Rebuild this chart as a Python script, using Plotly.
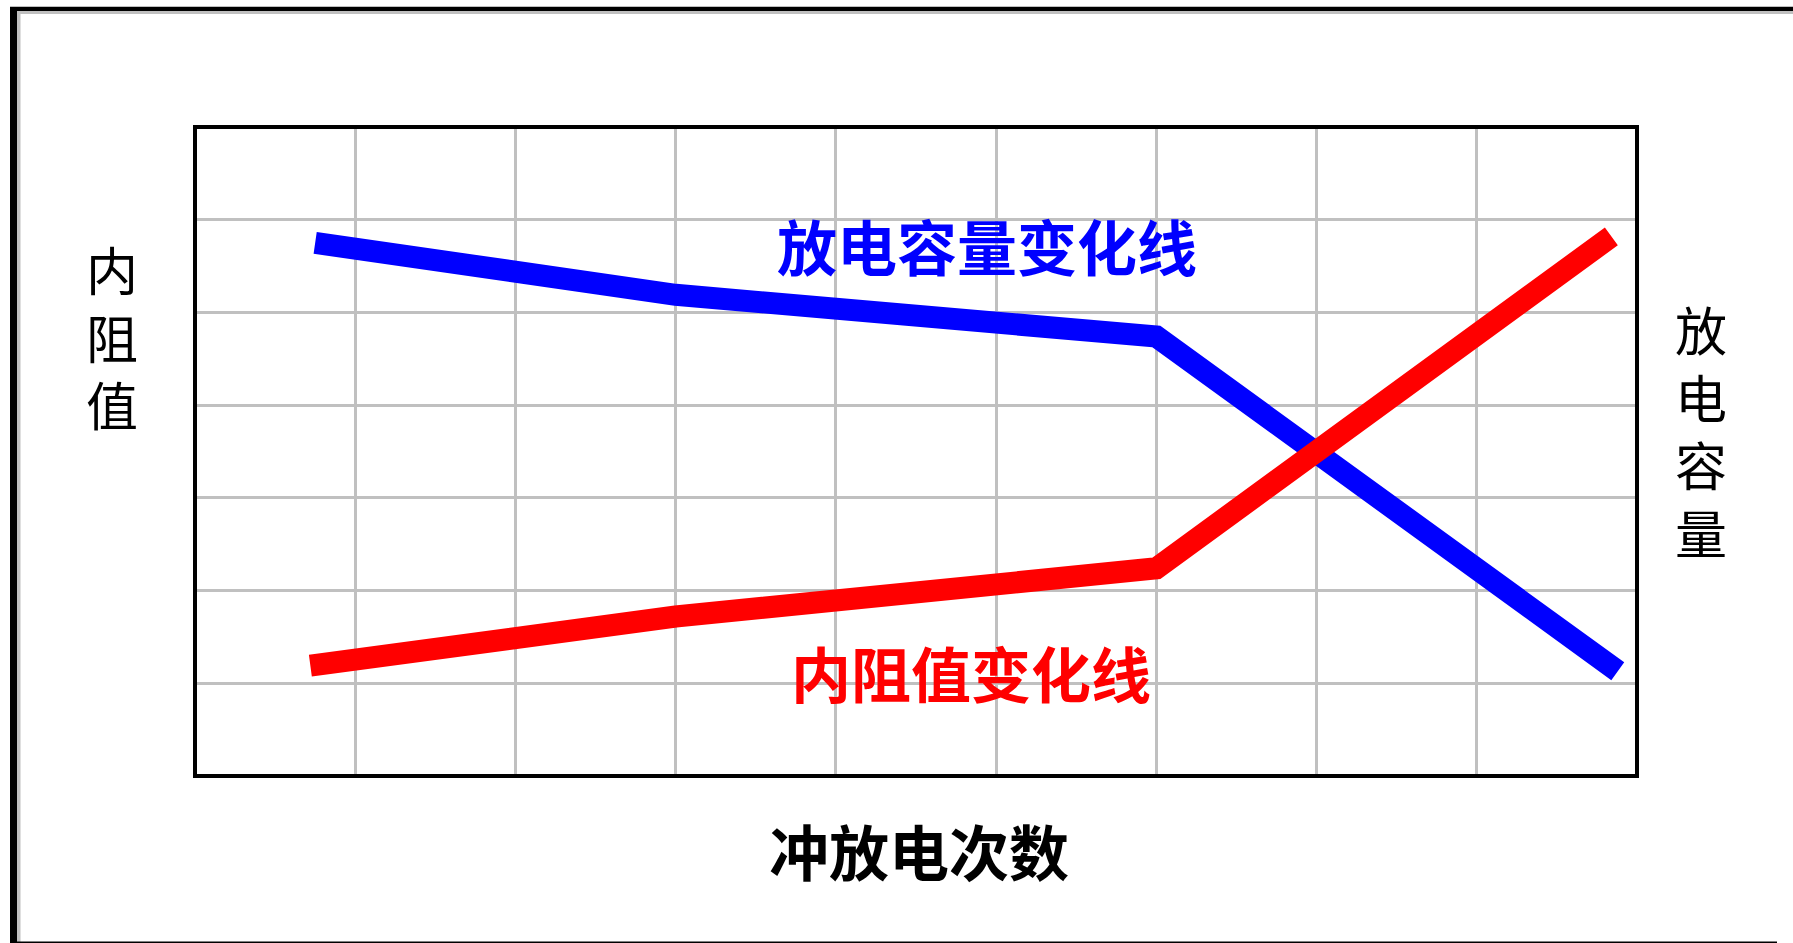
import plotly.graph_objects as go

# ---------------- data (grid units) ----------------
cycles_capacity = [0.75, 3.0, 6.0, 8.88]
capacity = [5.75, 5.19, 4.74, 1.13]
cycles_resistance = [0.72, 3.0, 6.0, 8.84]
resistance = [1.19, 1.72, 2.24, 5.82]

capacity_label = "放电容量变化线"
resistance_label = "内阻值变化线"
x_title = "冲放电次数"
y_left_title = "内阻值"
y_right_title = "放电容量"

# ---------------- layout geometry (pixels) ----------------
W, H = 1793, 943
L, R, T, B = 195, 1637, 127, 776
FONT = "Noto Sans CJK SC"


def px(x):
    return (x - L) / (R - L)


def py(y):
    return (B - y) / (B - T)


fig = go.Figure()
fig.add_trace(go.Scatter(x=cycles_capacity, y=capacity, mode="lines",
                         line=dict(color="#0000ff", width=22), hoverinfo="skip"))
fig.add_trace(go.Scatter(x=cycles_resistance, y=resistance, mode="lines",
                         line=dict(color="#ff0000", width=22), hoverinfo="skip"))

axis_common = dict(showticklabels=False, ticks="", zeroline=False, showline=False,
                   gridcolor="#c0c0c0", gridwidth=3, dtick=1, tick0=0, fixedrange=True)
fig.update_xaxes(range=[0, 9], **axis_common)
fig.update_yaxes(range=[0, 7], **axis_common)

shapes = []
# label background boxes (lighten the grid under the labels)
shapes.append(dict(type="rect", xref="paper", yref="paper", layer="between",
                   x0=px(753), x1=px(1217), y0=py(280), y1=py(207),
                   fillcolor="rgba(255,255,255,0.55)", line=dict(width=0)))
shapes.append(dict(type="rect", xref="paper", yref="paper", layer="between",
                   x0=px(777), x1=px(1229), y0=py(720), y1=py(633),
                   fillcolor="rgba(255,255,255,0.55)", line=dict(width=0)))
# plot frame
shapes.append(dict(type="rect", xref="paper", yref="paper", x0=0, x1=1, y0=0, y1=1,
                   line=dict(color="black", width=4), layer="above"))
# outer window frame
shapes.append(dict(type="rect", xref="paper", yref="paper", x0=px(10), x1=px(17),
                   y0=py(943), y1=py(7), fillcolor="black", line=dict(width=0)))
shapes.append(dict(type="rect", xref="paper", yref="paper", x0=px(17), x1=px(20.5),
                   y0=py(943), y1=py(11), fillcolor="#c0c0c0", line=dict(width=0)))
shapes.append(dict(type="rect", xref="paper", yref="paper", x0=px(10), x1=px(1793),
                   y0=py(11), y1=py(6.7), fillcolor="black", line=dict(width=0)))
shapes.append(dict(type="rect", xref="paper", yref="paper", x0=px(17), x1=px(1793),
                   y0=py(14), y1=py(11), fillcolor="#c0c0c0", line=dict(width=0)))
shapes.append(dict(type="rect", xref="paper", yref="paper", x0=px(10), x1=px(1777),
                   y0=py(943), y1=py(941.5), fillcolor="black", line=dict(width=0)))

annotations = []


def ann(text, x, y, size, color, bold):
    t = f"<b>{text}</b>" if bold else text
    annotations.append(dict(text=t, xref="paper", yref="paper", x=px(x), y=py(y),
                            xanchor="center", yanchor="middle", showarrow=False,
                            font=dict(family=FONT, size=size, color=color)))


ann(capacity_label, 987, 244, 60, "#0000ff", True)
ann(resistance_label, 971, 671, 60, "#ff0000", True)
ann(x_title, 919, 849, 60, "black", True)
ann("<br>".join(y_left_title), 112, 336, 52, "black", False)
ann("<br>".join(y_right_title), 1701, 430, 52, "black", False)

fig.update_layout(
    width=W, height=H, autosize=False,
    margin=dict(l=L, r=W - R, t=T, b=H - B, pad=0),
    paper_bgcolor="white", plot_bgcolor="white",
    showlegend=False, shapes=shapes, annotations=annotations,
    font=dict(family=FONT),
)

fig.write_html("out.html", config={"displayModeBar": False},
               post_script="document.body.style.margin='0';document.body.style.overflow='hidden';")
